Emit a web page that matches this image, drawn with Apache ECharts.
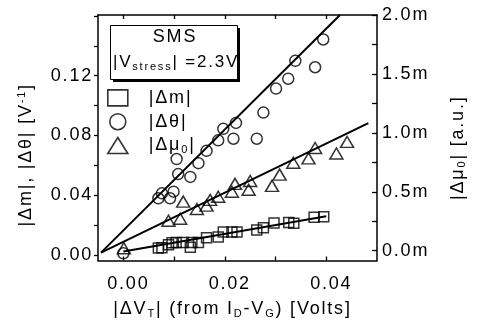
<!DOCTYPE html>
<html><head><meta charset="utf-8">
<script src="https://cdn.jsdelivr.net/npm/echarts@6/dist/echarts.min.js"></script>
<style>html,body{margin:0;padding:0;background:#fff}#c{width:480px;height:325px}</style>
</head><body><div id="c"></div>
<script>
(function(){
  var LS='1.8px';
  var P=CanvasRenderingContext2D.prototype;
  var ft=P.fillText, mt=P.measureText;
  P.fillText=function(){ try{this.letterSpacing=LS;}catch(e){} return ft.apply(this,arguments); };
  P.measureText=function(){ try{this.letterSpacing=LS;}catch(e){} return mt.apply(this,arguments); };
})();

// |Δm| (left axis, V^-1)
const dmX = [0.0069,0.0076,0.0089,0.0096,0.0104,0.0118,0.0132,0.0135,0.0148,0.0164,0.0187,0.0197,0.0214,0.0224,0.0263,0.0276,0.0297,0.0326,0.0336,0.0376,0.0395];
const dmY = [0.0045,0.0048,0.0068,0.0081,0.0083,0.0083,0.0051,0.0083,0.0083,0.0114,0.0120,0.0153,0.0153,0.0153,0.0166,0.0182,0.0214,0.0216,0.0211,0.0252,0.0255];
// |Δθ| (left axis, V^-1)
const dthX = [0.0000,0.0069,0.0076,0.0092,0.0099,0.0105,0.0108,0.0132,0.0148,0.0164,0.0187,0.0197,0.0217,0.0222,0.0263,0.0276,0.0301,0.0325,0.0339,0.0378,0.0394];
const dthY = [0.001,0.0379,0.0412,0.0379,0.0423,0.0642,0.0541,0.0522,0.0614,0.0697,0.0767,0.0844,0.0778,0.0884,0.0778,0.0953,0.1114,0.1180,0.1300,0.1257,0.1443];
// |Δμ0| (right axis, in milli a.u.)
const dmuX = [0.0001,0.0089,0.0112,0.0118,0.0145,0.0164,0.0171,0.0187,0.0214,0.0220,0.0247,0.0250,0.0293,0.0308,0.0335,0.0365,0.0378,0.0420,0.0441];
const dmuY = [0.021,0.254,0.271,0.417,0.354,0.383,0.431,0.458,0.500,0.567,0.517,0.592,0.550,0.646,0.746,0.783,0.871,0.825,0.923];
// linear fits
const fitMX = [0.0, 0.040], fitMY = [0.0022, 0.0259];
const fitThX = [-0.0044, 0.0427], fitThY = [0.0015, 0.1607];
const fitMuX = [-0.0044, 0.0483], fitMuY = [-0.017, 1.083];
// ticks
const xTicks = [0, 0.01, 0.02, 0.03, 0.04];
const xLabels = [0, 0.02, 0.04];
const yLeftTicks = [0, 0.02, 0.04, 0.06, 0.08, 0.10, 0.12, 0.14, 0.16];
const yLeftLabels = [0, 0.04, 0.08, 0.12];
const yRightTicks = [0, 0.25, 0.5, 0.75, 1.0, 1.25, 1.5, 1.75, 2.0];
const yRightLabels = [0, 0.5, 1.0, 1.5, 2.0];
const seriesNames = ['|Δm|', '|Δθ|', '|Δμ0|'];

const zip = (a, b) => a.map((v, i) => [v, b[i]]);
const F = "'Liberation Sans', Arial, sans-serif";
const FS = 18;
const black = '#000';
const rich = {
  sub: {fontSize: 11, fontFamily: F, color: black, padding: [9, 0, 0, 0]},
  sup: {fontSize: 11, fontFamily: F, color: black, padding: [0, 0, 8, 0]}
};
const axisLineS = {show: true, onZero: false, lineStyle: {color: black, width: 1.5}};
const marker = {color: 'rgba(0,0,0,0)', borderColor: black, borderWidth: 1.5};
const fitLine = {type: 'line', symbol: 'none', silent: true, lineStyle: {color: black, width: 2}, z: 3};

const chart = echarts.init(document.getElementById('c'));
chart.setOption({
  animation: false,
  backgroundColor: '#fff',
  textStyle: {fontFamily: F},
  grid: {left: 98, right: 103, top: 15, bottom: 60},
  xAxis: [{
    type: 'value', min: -0.005, max: 0.05, position: 'bottom',
    axisLine: axisLineS,
    axisTick: {show: true, inside: true, length: 4, customValues: xTicks, lineStyle: {color: black, width: 1.3}},
    axisLabel: {customValues: xLabels, formatter: v => v.toFixed(2), color: black, fontSize: FS, fontFamily: F, margin: 14, padding: [0, 0, 0, 10]},
    splitLine: {show: false},
    name: '|ΔV{sub|T}| (from I{sub|D}-V{sub|G}) [Volts]',
    nameLocation: 'middle', nameGap: 37,
    nameTextStyle: {fontSize: FS, fontFamily: F, color: black, rich: rich, padding: [0, 10, 0, 0]}
  }, {
    type: 'value', min: -0.005, max: 0.05, position: 'top',
    axisLine: axisLineS,
    axisTick: {show: true, inside: true, length: 4, customValues: xTicks, lineStyle: {color: black, width: 1.3}},
    axisLabel: {show: false}, splitLine: {show: false}
  }],
  yAxis: [{
    type: 'value', min: -0.0038, max: 0.1607, position: 'left',
    axisLine: axisLineS,
    axisTick: {show: true, inside: false, length: 4, customValues: yLeftTicks, lineStyle: {color: black, width: 1.3}},
    axisLabel: {customValues: yLeftLabels, formatter: v => v.toFixed(2), color: black, fontSize: FS, fontFamily: F, margin: 5},
    splitLine: {show: false},
    name: '|Δm|, |Δθ| [V{sup|-1}]',
    nameLocation: 'middle', nameRotate: 90, nameGap: 62,
    nameTextStyle: {fontSize: FS, fontFamily: F, color: black, rich: rich, padding: [0, 34, 0, 0]}
  }, {
    type: 'value', min: -0.083, max: 2.0, position: 'right',
    axisLine: axisLineS,
    axisTick: {show: true, inside: true, length: 5, customValues: yRightTicks, lineStyle: {color: black, width: 1.3}},
    axisLabel: {customValues: yRightLabels, formatter: v => v.toFixed(1) + 'm', color: black, fontSize: FS, fontFamily: F, margin: 5},
    splitLine: {show: false},
    name: '|Δμ{sub|0}| [a.u.]',
    nameLocation: 'middle', nameRotate: 90, nameGap: 70,
    nameTextStyle: {fontSize: FS, fontFamily: F, color: black, rich: rich, padding: [0, 20, 0, 0]}
  }],
  legend: {
    orient: 'vertical', left: 102, top: 83, itemWidth: 20, itemHeight: 16, itemGap: 4,
    data: seriesNames,
    formatter: n => n === '|Δμ0|' ? '|Δμ{sub|0}|' : n,
    textStyle: {fontSize: FS, fontFamily: F, color: black, padding: [0, 0, 0, 16], rich: rich},
    itemStyle: {borderWidth: 1.6}
  },
  graphic: [{
    type: 'rect', left: 113, top: 28, z: 10,
    shape: {width: 127, height: 54},
    style: {fill: black}
  }, {
    type: 'rect', left: 110, top: 25, z: 11,
    shape: {width: 127, height: 54},
    style: {fill: '#fff', stroke: black, lineWidth: 1}
  }, {
    type: 'text', x: 175, y: 37, z: 12,
    style: {text: 'SMS', fontSize: FS, fontFamily: F, fill: black, align: 'center', verticalAlign: 'middle'}
  }, {
    type: 'text', x: 176, y: 62, z: 12,
    style: {text: '|V{sub|stress}| =2.3V', fontSize: 17, fontFamily: F, fill: black, align: 'center', verticalAlign: 'middle', rich: rich}
  }],
  series: [
    {name: '|Δm|', type: 'scatter', xAxisIndex: 0, yAxisIndex: 0, symbol: 'rect', symbolSize: 10, itemStyle: marker, data: zip(dmX, dmY), z: 4},
    {name: '|Δθ|', type: 'scatter', xAxisIndex: 0, yAxisIndex: 0, symbol: 'circle', symbolSize: 11, itemStyle: marker, data: zip(dthX, dthY), z: 4},
    {name: '|Δμ0|', type: 'scatter', xAxisIndex: 0, yAxisIndex: 1, symbol: 'triangle', symbolSize: [13, 11], itemStyle: marker, data: zip(dmuX, dmuY), z: 4},
    Object.assign({name: 'fit m', xAxisIndex: 0, yAxisIndex: 0, data: zip(fitMX, fitMY)}, fitLine),
    Object.assign({name: 'fit theta', xAxisIndex: 0, yAxisIndex: 0, data: zip(fitThX, fitThY)}, fitLine),
    Object.assign({name: 'fit mu', xAxisIndex: 0, yAxisIndex: 1, data: zip(fitMuX, fitMuY)}, fitLine)
  ]
});
</script>
</body></html>
